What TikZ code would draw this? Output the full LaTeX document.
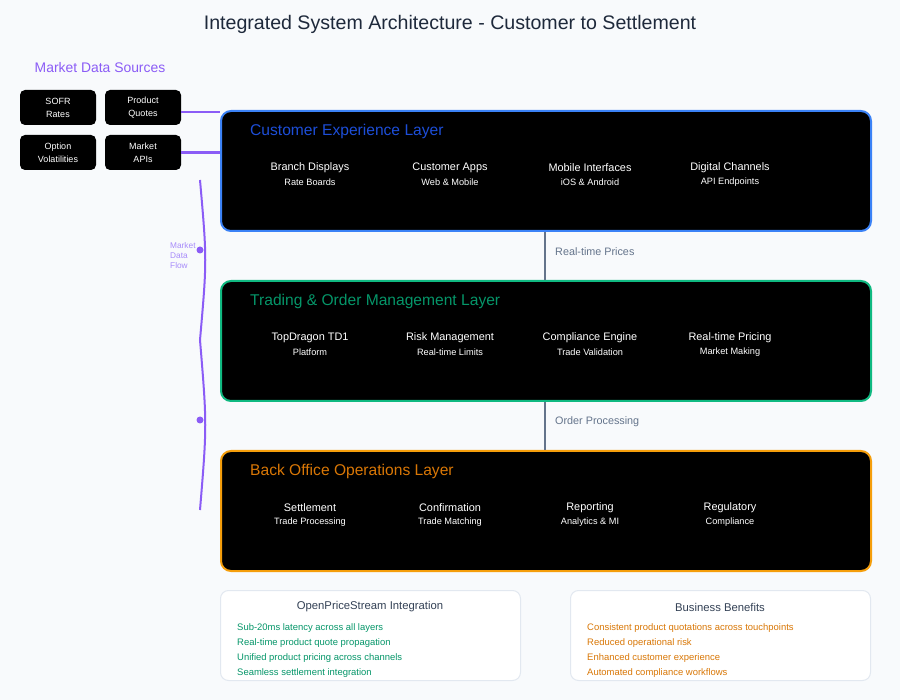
\documentclass[tikz,border=0pt]{standalone}
\usepackage{fontspec}
\setmainfont{Liberation Sans}
\definecolor{bg}{HTML}{F8FAFC}
\definecolor{titlec}{HTML}{1E293B}
\definecolor{purp}{HTML}{8B5CF6}
\definecolor{purpl}{HTML}{A78BFA}
\definecolor{blueb}{HTML}{3B82F6}
\definecolor{bluet}{HTML}{1D4ED8}
\definecolor{greenb}{HTML}{10B981}
\definecolor{greent}{HTML}{059669}
\definecolor{orangeb}{HTML}{F59E0B}
\definecolor{oranget}{HTML}{D97706}
\definecolor{grayc}{HTML}{64748B}
\definecolor{boxb}{HTML}{E2E8F0}
\definecolor{boxt}{HTML}{334155}
\tikzset{
  srcbox/.style={draw=none, fill=black, rounded corners=5pt, minimum width=76pt, minimum height=35pt, inner sep=0pt, text=white, align=center, font=\fontsize{9}{13}\selectfont, execute at begin node={\vspace*{3pt}}},
  layerbox/.style={fill=black, line width=2pt, rounded corners=10pt, minimum width=650pt, minimum height=120pt, inner sep=0pt, anchor=north west},
  layertitle/.style={anchor=west, inner sep=0pt, font=\fontsize{15.6}{18}\selectfont},
  itemt/.style={text=white, inner sep=0pt, font=\fontsize{10.9}{12}\selectfont},
  items/.style={text=white, inner sep=0pt, font=\fontsize{9.2}{10}\selectfont},
  conn/.style={draw=grayc, line width=2.5pt},
  connlabel/.style={anchor=west, inner sep=0pt, text=grayc, font=\fontsize{10.8}{12}\selectfont},
  infobox/.style={draw=boxb, fill=white, line width=1pt, rounded corners=8pt, minimum width=300pt, minimum height=90pt, inner sep=0pt, anchor=north west},
  infotitle/.style={inner sep=0pt, text=boxt, font=\fontsize{11.3}{13}\selectfont},
  infoitem/.style={anchor=west, inner sep=0pt, font=\fontsize{9.45}{11}\selectfont},
  flow/.style={draw=purp, line width=2pt},
}
\begin{document}
\begin{tikzpicture}[x=1pt,y=-1pt]
\fill[bg] (0,0) rectangle (900,700);
\useasboundingbox (0,0) rectangle (900,700);

\node[inner sep=0pt, text=titlec, font=\fontsize{19.6}{22}\selectfont] (title) at (450,24.5) {Integrated System Architecture - Customer to Settlement};

\node[inner sep=0pt, text=purp, font=\fontsize{13.9}{16}\selectfont] (mds) at (100,67.5) {Market Data Sources};

\node[srcbox] (sofr) at (58,107.5) {SOFR\\Rates};
\node[srcbox] (pq) at (143,107.5) {Product\\Quotes};
\node[srcbox] (ov) at (58,152.5) {Option\\Volatilities};
\node[srcbox] (mapi) at (143,152.5) {Market\\APIs};

% layers
\node[layerbox, draw=blueb] (cel) at (220,110) {};
\node[layerbox, draw=greenb] (tol) at (220,280) {};
\node[layerbox, draw=orangeb] (bol) at (220,450) {};

\node[layertitle, text=bluet] (celt) at (250,131.5) {Customer Experience Layer};
\node[layertitle, text=greent] (tolt) at (250,301.5) {Trading \& Order Management Layer};
\node[layertitle, text=oranget] (bolt) at (250,471.5) {Back Office Operations Layer};

% items layer 1
\node[itemt] (a1) at (310,167.5) {Branch Displays};
\node[items] (a1s) at (310,182.5) {Rate Boards};
\node[itemt] (a2) at (450,167.5) {Customer Apps};
\node[items] (a2s) at (450,182.5) {Web \& Mobile};
\node[itemt] (a3) at (590,167.5) {Mobile Interfaces};
\node[items] (a3s) at (590,182.5) {iOS \& Android};
\node[itemt] (a4) at (730,167.5) {Digital Channels};
\node[items] (a4s) at (730,182.5) {API Endpoints};

% items layer 2
\node[itemt] (b1) at (310,337.5) {TopDragon TD1};
\node[items] (b1s) at (310,352.5) {Platform};
\node[itemt] (b2) at (450,337.5) {Risk Management};
\node[items] (b2s) at (450,352.5) {Real-time Limits};
\node[itemt] (b3) at (590,337.5) {Compliance Engine};
\node[items] (b3s) at (590,352.5) {Trade Validation};
\node[itemt] (b4) at (730,337.5) {Real-time Pricing};
\node[items] (b4s) at (730,352.5) {Market Making};

% items layer 3
\node[itemt] (c1) at (310,507.5) {Settlement};
\node[items] (c1s) at (310,522.5) {Trade Processing};
\node[itemt] (c2) at (450,507.5) {Confirmation};
\node[items] (c2s) at (450,522.5) {Trade Matching};
\node[itemt] (c3) at (590,507.5) {Reporting};
\node[items] (c3s) at (590,522.5) {Analytics \& MI};
\node[itemt] (c4) at (730,507.5) {Regulatory};
\node[items] (c4s) at (730,522.5) {Compliance};

% connectors between layers
\coordinate (cx) at (545,0);
\draw[conn] (cel.south -| cx) -- (tol.north -| cx);
\draw[conn] (tol.south -| cx) -- (bol.north -| cx);
\node[connlabel] (rtp) at (555,252) {Real-time Prices};
\node[connlabel] (op) at (555,422) {Order Processing};

% source links
\draw[flow, line width=2.5pt] ([yshift=-4.5pt]pq.east) -- ([yshift=-4.5pt]pq.east -| cel.west);
\draw[flow, line width=2.5pt] (mapi.east) -- (mapi.east -| cel.west);

% market data flow brace
\coordinate (bt) at (200,180);
\coordinate (bm) at (200,340);
\coordinate (bb) at (200,510);
\draw[flow] (bt) .. controls (207,260) .. (bm) .. controls (207,425) .. (bb);
\fill[purp] (200,250) circle (3.5pt);
\fill[purp] (200,420) circle (3.5pt);
\node[anchor=north west, inner sep=0pt, text=purpl, align=left, font=\fontsize{8.3}{10}\selectfont] (mdf) at (170,242.5) {Market\\Data\\Flow};

% info boxes
\node[infobox] (ops) at (220,590) {};
\node[infobox] (bus) at (570,590) {};
\node[infotitle] (opst) at (370,607) {OpenPriceStream Integration};
\node[infotitle] (bust) at (720,607) {Business Benefits};
\node[infoitem, text=greent] (o1) at (237,628) {Sub-20ms latency across all layers};
\node[infoitem, text=greent] (o2) at (237,643) {Real-time product quote propagation};
\node[infoitem, text=greent] (o3) at (237,658) {Unified product pricing across channels};
\node[infoitem, text=greent] (o4) at (237,673) {Seamless settlement integration};
\node[infoitem, text=oranget] (u1) at (587,628) {Consistent product quotations across touchpoints};
\node[infoitem, text=oranget] (u2) at (587,643) {Reduced operational risk};
\node[infoitem, text=oranget] (u3) at (587,658) {Enhanced customer experience};
\node[infoitem, text=oranget] (u4) at (587,673) {Automated compliance workflows};
\end{tikzpicture}
\end{document}
